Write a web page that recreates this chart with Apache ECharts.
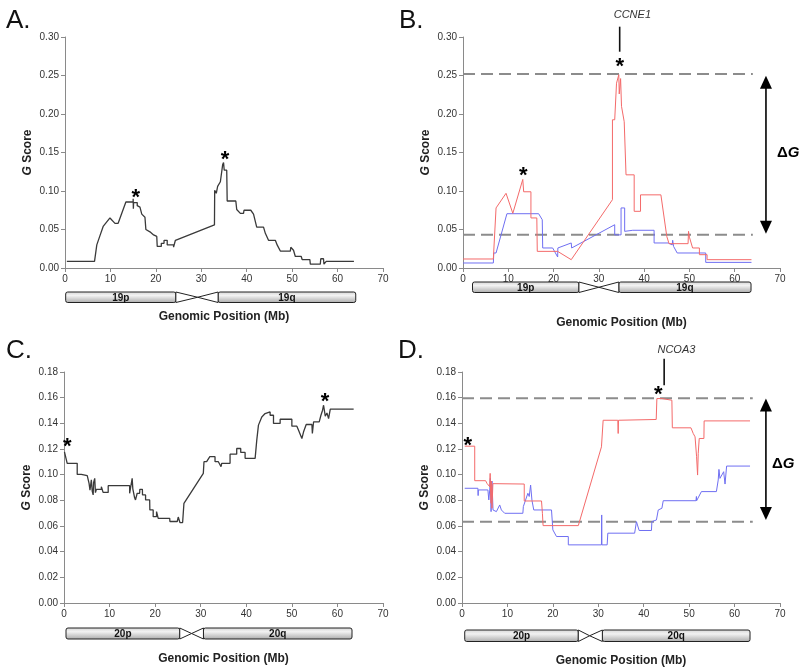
<!DOCTYPE html>
<html><head><meta charset="utf-8">
<script src="https://cdn.jsdelivr.net/npm/echarts@6/dist/echarts.min.js"></script>
<style>html,body{margin:0;padding:0;background:#fff}#c{width:800px;height:669px}</style>
</head><body><div id="c"></div>
<script>
// ---------- DATA ----------
const xTickMax = 70, xTickStep = 10;
const yMaxAB = 0.30, yStepAB = 0.05;
const yMaxCD = 0.18, yStepCD = 0.02;

const seriesA = [[0.4,0.0086],[6.5,0.0086],[7.0,0.030],[7.7,0.042],[8.4,0.054],[9.9,0.065],[11.0,0.058],[11.7,0.058],[13.4,0.0857],[15.0,0.0857],[15.0,0.090],[15.05,0.077],[15.1,0.085],[15.9,0.085],[15.9,0.081],[16.5,0.079],[16.9,0.070],[17.6,0.066],[17.8,0.050],[18.7,0.047],[19.5,0.043],[20.2,0.041],[20.3,0.028],[21.2,0.028],[21.2,0.032],[21.8,0.032],[21.8,0.036],[22.5,0.036],[22.5,0.030],[23.9,0.030],[23.9,0.027],[24.2,0.027],[24.3,0.036],[32.9,0.056],[32.95,0.101],[33.3,0.097],[33.6,0.106],[34.2,0.112],[34.4,0.113],[34.7,0.134],[34.9,0.137],[35.05,0.127],[35.6,0.127],[35.7,0.087],[37.6,0.087],[37.8,0.076],[38.6,0.071],[39.3,0.071],[39.4,0.075],[40.9,0.075],[41.5,0.070],[42.2,0.053],[43.7,0.053],[44.1,0.045],[44.8,0.036],[46.3,0.036],[46.4,0.038],[46.7,0.030],[47.4,0.022],[49.6,0.022],[49.7,0.027],[50.3,0.023],[50.7,0.015],[52.0,0.015],[52.2,0.011],[53.9,0.011],[54.0,0.005],[56.2,0.005],[56.3,0.012],[56.9,0.012],[57.0,0.005],[57.4,0.005],[57.5,0.0086],[63.6,0.0086]];

const seriesBred = [[0.0,0.0117],[6.7,0.0117],[7.3,0.078],[9.5,0.097],[11.0,0.071],[13.2,0.115],[13.4,0.099],[15.0,0.099],[15.0,0.065],[16.3,0.065],[16.4,0.0216],[20.9,0.0216],[23.9,0.0108],[33.0,0.0887],[33.0,0.1925],[33.5,0.1925],[33.9,0.24],[34.4,0.251],[34.5,0.226],[34.8,0.246],[35.0,0.21],[35.4,0.21],[35.6,0.19],[36.0,0.121],[37.8,0.121],[37.8,0.0736],[39.2,0.0736],[39.2,0.095],[43.7,0.095],[45.0,0.041],[45.5,0.0316],[49.7,0.0316],[49.8,0.0476],[50.0,0.040],[50.7,0.026],[52.2,0.026],[52.2,0.0173],[53.9,0.0173],[53.9,0.0108],[63.7,0.0108]];
const seriesBblue = [[0.0,0.0065],[6.7,0.0065],[6.8,0.0195],[7.3,0.0195],[9.7,0.0705],[16.7,0.0705],[17.5,0.0627],[17.6,0.026],[19.8,0.026],[20.9,0.0143],[20.95,0.026],[23.9,0.0325],[24.0,0.026],[33.5,0.0562],[33.5,0.043],[34.9,0.043],[34.9,0.078],[35.7,0.078],[35.7,0.0476],[37.5,0.049],[42.2,0.049],[42.2,0.0325],[45.3,0.0325],[46.2,0.030],[46.3,0.036],[46.5,0.028],[47.3,0.0195],[53.6,0.0195],[53.6,0.0073],[63.7,0.0073]];

const seriesC = [[0.1,0.1178],[0.7,0.1088],[2.9,0.1088],[2.9,0.1002],[3.8,0.1002],[3.8,0.0992],[5.1,0.0992],[5.5,0.0932],[5.7,0.088],[6.0,0.096],[6.2,0.087],[6.4,0.0842],[6.5,0.094],[6.74,0.0971],[6.9,0.086],[7.11,0.0886],[8.2,0.0886],[8.2,0.0906],[8.58,0.0906],[8.58,0.0862],[9.7,0.0862],[9.7,0.0914],[14.4,0.0914],[14.4,0.0855],[14.8,0.0855],[14.96,0.0971],[15.1,0.089],[15.32,0.0886],[15.5,0.082],[15.69,0.0803],[16.06,0.0855],[16.6,0.0855],[16.64,0.0886],[17.2,0.0886],[17.23,0.0842],[17.9,0.0842],[17.9,0.0803],[18.8,0.0803],[18.84,0.0725],[19.57,0.0725],[19.57,0.0673],[20.3,0.0673],[20.31,0.0712],[20.67,0.0712],[20.67,0.066],[23.2,0.066],[23.24,0.0635],[24.85,0.0635],[25.07,0.067],[25.44,0.0627],[26.03,0.0627],[26.32,0.0777],[30.57,0.101],[30.72,0.1101],[31.3,0.1101],[31.3,0.1114],[32.0,0.114],[33.14,0.114],[33.14,0.1101],[33.87,0.1101],[34.46,0.1062],[34.6,0.1088],[36.44,0.1088],[36.44,0.116],[37.9,0.116],[37.9,0.1204],[38.78,0.1204],[38.78,0.1173],[39.74,0.1173],[39.74,0.1127],[41.94,0.1127],[42.3,0.1269],[42.67,0.1386],[43.4,0.145],[44.13,0.1476],[44.5,0.1489],[45.23,0.1489],[45.23,0.1463],[45.97,0.1463],[45.97,0.1399],[47.43,0.1399],[47.43,0.1432],[50.0,0.1432],[50.0,0.1378],[51.1,0.1378],[51.47,0.1347],[52.2,0.1282],[52.57,0.1334],[53.15,0.1391],[54.4,0.1391],[54.5,0.1321],[54.77,0.1412],[56.0,0.1412],[56.38,0.1463],[56.74,0.1502],[56.96,0.1541],[57.33,0.1456],[57.7,0.1481],[58.06,0.1437],[58.43,0.151],[63.56,0.151]];

const seriesDred = [[0.6,0.1222],[2.8,0.1222],[2.8,0.0953],[5.2,0.0953],[5.5,0.0932],[6.1,0.0906],[6.2,0.101],[6.3,0.085],[6.4,0.0777],[6.5,0.095],[6.6,0.0738],[6.8,0.093],[7.2,0.0927],[13.7,0.0927],[13.7,0.0795],[17.5,0.0795],[17.7,0.0699],[17.85,0.0603],[25.6,0.0603],[30.7,0.1217],[31.07,0.1424],[34.3,0.1424],[34.38,0.1321],[34.45,0.1424],[42.75,0.143],[42.9,0.1593],[44.0,0.1593],[44.0,0.158],[46.2,0.158],[46.3,0.1365],[50.4,0.1365],[50.9,0.1321],[51.3,0.1295],[51.64,0.114],[51.86,0.0997],[52.0,0.1166],[52.22,0.1282],[53.25,0.1282],[53.3,0.1419],[63.4,0.1419]];
const seriesDblue = [[0.6,0.0894],[3.5,0.0894],[3.55,0.0837],[3.6,0.0881],[5.7,0.0881],[5.9,0.0803],[6.1,0.088],[6.24,0.0971],[6.4,0.0712],[6.6,0.095],[6.83,0.0725],[7.57,0.0712],[8.3,0.0764],[8.67,0.0725],[9.4,0.0699],[13.4,0.0699],[13.5,0.0751],[14.5,0.0855],[14.8,0.083],[15.1,0.0919],[15.4,0.080],[15.8,0.0725],[19.7,0.0725],[20.0,0.057],[20.8,0.0518],[23.4,0.0518],[23.4,0.0453],[30.7,0.0453],[30.75,0.0686],[30.8,0.0453],[31.95,0.0453],[32.1,0.0544],[38.0,0.0544],[38.4,0.0634],[39.0,0.0565],[41.7,0.0565],[41.8,0.0634],[42.8,0.0647],[43.2,0.0725],[44.0,0.0738],[44.3,0.0797],[51.5,0.0797],[51.6,0.083],[51.65,0.0797],[52.7,0.0868],[56.0,0.0868],[56.4,0.0958],[56.56,0.1041],[56.78,0.0971],[57.6,0.1023],[57.9,0.0927],[58.25,0.1067],[63.4,0.1067]];

// reference (dashed) levels: [x start, x end, level]
const refLinesB = [[0, 64, 0.252], [0, 64, 0.0432]];
const refLinesD = [[0, 64, 0.1595], [0, 64, 0.0634]];
// delta-G arrows: [x, low tip, high tip]
const arrowB = [[66.9, 0.0445, 0.2497]];
const arrowD = [[66.9, 0.0647, 0.1593]];
const deltaLabelB = [[71.8, 0.1498]];
const deltaLabelD = [[70.7, 0.1088]];
// asterisks (glyph centres)
const starsA = [[15.6, 0.098], [35.2, 0.147]];
const starsB = [[13.3, 0.1255], [34.6, 0.268]];
const starsC = [[0.74, 0.1256], [57.3, 0.1606]];
const starsD = [[1.3, 0.126], [43.2, 0.1663]];
// gene labels: [text x, text y, line x, line top, line bottom]
const geneNames = ['CCNE1', 'NCOA3'];
const geneB = [[37.4, 0.329, 34.6, 0.3134, 0.2809]];
const geneD = [[47.2, 0.1974, 44.5, 0.1904, 0.1697]];
// chromosome ideograms: [start, p end, centromere, q start, end] (Mb)
const ideoA = [[0.15, 24.4, 29.2, 33.7, 64.0]];
const ideoB = [[2.1, 25.6, 30.0, 34.4, 63.6]];
const ideoC = [[0.44, 25.4, 28.0, 30.6, 63.2]];
const ideoD = [[0.6, 25.6, 28.1, 30.9, 63.4]];
const armLabels19 = ['19p', '19q'];
const armLabels20 = ['20p', '20q'];
const panelLetters = ['A.', 'B.', 'C.', 'D.'];

// ---------- LAYOUT ----------
const FONT = 'Liberation Sans, Arial, sans-serif';
const mainGrids = [
  {left: 65, top: 37, width: 318, height: 231},
  {left: 463, top: 37, width: 317, height: 231},
  {left: 64, top: 372, width: 319, height: 231},
  {left: 462, top: 372, width: 318, height: 231}
];
const ideoGrids = [
  {left: 65, top: 292, width: 318, height: 10.5},
  {left: 463, top: 282, width: 317, height: 10.5},
  {left: 64, top: 628, width: 319, height: 11},
  {left: 462, top: 630, width: 318, height: 11.5}
];
const xNameGap = [43, 49, 50, 52];
const yMaxes = [yMaxAB, yMaxAB, yMaxCD, yMaxCD];
const ySteps = [yStepAB, yStepAB, yStepCD, yStepCD];

const grid = [], xAxis = [], yAxis = [];
mainGrids.forEach((g, i) => {
  grid.push(Object.assign({containLabel: false}, g));
  xAxis.push({
    type: 'value', gridIndex: i, min: 0, max: xTickMax, interval: xTickStep,
    name: 'Genomic Position (Mb)', nameLocation: 'middle', nameGap: xNameGap[i],
    nameTextStyle: {fontFamily: FONT, fontWeight: 'bold', fontSize: 12, color: '#222'},
    axisLine: {show: true, onZero: false, lineStyle: {color: '#8a8a8a', width: 1}},
    axisTick: {show: true, length: 4, lineStyle: {color: '#8a8a8a'}},
    axisLabel: {fontFamily: FONT, fontSize: 10, color: '#333', margin: 6},
    splitLine: {show: false}
  });
  yAxis.push({
    type: 'value', gridIndex: i, min: 0, max: yMaxes[i], interval: ySteps[i],
    name: '{i|G} Score', nameLocation: 'middle', nameGap: 31, nameRotate: 90,
    nameTextStyle: {fontFamily: FONT, fontWeight: 'bold', fontSize: 12, color: '#222',
      rich: {i: {fontFamily: FONT, fontWeight: 'bold', fontStyle: 'italic', fontSize: 12, color: '#222'}}},
    axisLine: {show: true, onZero: false, lineStyle: {color: '#8a8a8a', width: 1}},
    axisTick: {show: true, length: 4, lineStyle: {color: '#8a8a8a'}},
    axisLabel: {fontFamily: FONT, fontSize: 10, color: '#333', margin: 6,
      formatter: v => v.toFixed(2)},
    splitLine: {show: false}
  });
});
ideoGrids.forEach((g, i) => {
  grid.push(Object.assign({containLabel: false}, g));
  xAxis.push({type: 'value', gridIndex: 4 + i, min: 0, max: xTickMax, show: false});
  yAxis.push({type: 'value', gridIndex: 4 + i, min: 0, max: 1, show: false});
});

function lineSeries(idx, data, color, width) {
  return {type: 'line', xAxisIndex: idx, yAxisIndex: idx, data: data, showSymbol: false,
    symbol: 'none', silent: true, animation: false, clip: false,
    lineStyle: {color: color, width: width}, z: 3};
}

function ideoSeries(idx, data, labels) {
  return {type: 'custom', xAxisIndex: 4 + idx, yAxisIndex: 4 + idx, data: data, silent: true, animation: false,
    renderItem: function (params, api) {
      const s = api.value(0), pe = api.value(1), m = api.value(2), qs = api.value(3), e = api.value(4);
      const X = v => api.coord([v, 0])[0];
      const top = api.coord([s, 1])[1], bot = api.coord([s, 0])[1];
      const mid = (top + bot) / 2;
      const grad = () => new echarts.graphic.LinearGradient(0, 0, 0, 1, [
        {offset: 0, color: '#d4d4d4'}, {offset: 0.35, color: '#f2f2f2'}, {offset: 1, color: '#a9a9a9'}]);
      const lab = (txt, cx) => ({type: 'text', x: cx, y: mid + 0.5, style: {text: txt, fill: '#111',
        font: 'bold 10px ' + FONT, align: 'center', verticalAlign: 'middle'}});
      return {type: 'group', children: [
        {type: 'rect', shape: {x: X(s), y: top, width: X(pe) - X(s), height: bot - top, r: 2},
          style: {fill: grad(), stroke: '#222', lineWidth: 1}},
        {type: 'rect', shape: {x: X(qs), y: top, width: X(e) - X(qs), height: bot - top, r: 2},
          style: {fill: grad(), stroke: '#222', lineWidth: 1}},
        {type: 'polygon', shape: {points: [[X(pe), top], [X(pe), bot], [X(m), mid]]},
          style: {fill: '#fff', stroke: '#222', lineWidth: 1}},
        {type: 'polygon', shape: {points: [[X(qs), top], [X(qs), bot], [X(m), mid]]},
          style: {fill: '#fff', stroke: '#222', lineWidth: 1}},
        lab(labels[0], (X(s) + X(pe)) / 2),
        lab(labels[1], (X(qs) + X(e)) / 2)
      ]};
    }};
}

function starSeries(idx, data) {
  return {type: 'custom', xAxisIndex: idx, yAxisIndex: idx, data: data, silent: true, animation: false, z: 5,
    renderItem: function (params, api) {
      const p = api.coord([api.value(0), api.value(1)]);
      return {type: 'text', x: p[0], y: p[1] + 5, style: {text: '*', fill: '#000',
        font: 'bold 22px ' + FONT, align: 'center', verticalAlign: 'middle'}};
    }};
}

function refSeries(idx, data) {
  return {type: 'custom', xAxisIndex: idx, yAxisIndex: idx, data: data, silent: true, animation: false, z: 2,
    renderItem: function (params, api) {
      const a = api.coord([api.value(0), api.value(2)]);
      const b = api.coord([api.value(1), api.value(2)]);
      return {type: 'line', shape: {x1: a[0], y1: a[1], x2: b[0], y2: b[1]},
        style: {stroke: '#8c8c8c', lineWidth: 2, lineDash: [12, 6]}};
    }};
}

function arrowSeries(idx, data) {
  return {type: 'custom', xAxisIndex: idx, yAxisIndex: idx, data: data, silent: true, animation: false, z: 5,
    renderItem: function (params, api) {
      const lo = api.coord([api.value(0), api.value(1)]);
      const hi = api.coord([api.value(0), api.value(2)]);
      const x = lo[0], hw = 6, hh = 13;
      return {type: 'group', children: [
        {type: 'line', shape: {x1: x, y1: hi[1] + hh - 1, x2: x, y2: lo[1] - hh + 1},
          style: {stroke: '#000', lineWidth: 1.6}},
        {type: 'polygon', shape: {points: [[x, hi[1]], [x - hw, hi[1] + hh], [x + hw, hi[1] + hh]]},
          style: {fill: '#000'}},
        {type: 'polygon', shape: {points: [[x, lo[1]], [x - hw, lo[1] - hh], [x + hw, lo[1] - hh]]},
          style: {fill: '#000'}}
      ]};
    }};
}

function deltaSeries(idx, data) {
  return {type: 'custom', xAxisIndex: idx, yAxisIndex: idx, data: data, silent: true, animation: false, z: 5,
    renderItem: function (params, api) {
      const p = api.coord([api.value(0), api.value(1)]);
      return {type: 'text', x: p[0], y: p[1], style: {text: '{a|Δ}{b|G}', align: 'center', verticalAlign: 'middle',
        rich: {a: {fontFamily: FONT, fontWeight: 'bold', fontSize: 15, fill: '#000', color: '#000'},
               b: {fontFamily: FONT, fontWeight: 'bold', fontStyle: 'italic', fontSize: 15, fill: '#000', color: '#000'}}}};
    }};
}

function geneSeries(idx, data, name) {
  return {type: 'custom', xAxisIndex: idx, yAxisIndex: idx, data: data, silent: true, animation: false, z: 5,
    renderItem: function (params, api) {
      const t = api.coord([api.value(0), api.value(1)]);
      const a = api.coord([api.value(2), api.value(3)]);
      const b = api.coord([api.value(2), api.value(4)]);
      return {type: 'group', children: [
        {type: 'text', x: t[0], y: t[1], style: {text: name, fill: '#333',
          font: 'italic 11px ' + FONT, align: 'center', verticalAlign: 'middle'}},
        {type: 'line', shape: {x1: a[0], y1: a[1], x2: b[0], y2: b[1]}, style: {stroke: '#111', lineWidth: 1.6}}
      ]};
    }};
}

const RED = '#f46a6a', BLUE = '#6f6ff2', DARK = '#3a3a3a';
const series = [
  lineSeries(0, seriesA, DARK, 1.3),
  refSeries(1, refLinesB),
  lineSeries(1, seriesBblue, BLUE, 1),
  lineSeries(1, seriesBred, RED, 1),
  lineSeries(2, seriesC, DARK, 1.3),
  refSeries(3, refLinesD),
  lineSeries(3, seriesDblue, BLUE, 1),
  lineSeries(3, seriesDred, RED, 1),
  starSeries(0, starsA), starSeries(1, starsB), starSeries(2, starsC), starSeries(3, starsD),
  arrowSeries(1, arrowB), arrowSeries(3, arrowD),
  deltaSeries(1, deltaLabelB), deltaSeries(3, deltaLabelD),
  geneSeries(1, geneB, geneNames[0]), geneSeries(3, geneD, geneNames[1]),
  ideoSeries(0, ideoA, armLabels19), ideoSeries(1, ideoB, armLabels19),
  ideoSeries(2, ideoC, armLabels20), ideoSeries(3, ideoD, armLabels20)
];

const letterPos = [[6, 8], [399, 8], [6, 338], [398, 338]];
const graphic = panelLetters.map((t, i) => ({type: 'text', left: letterPos[i][0], top: letterPos[i][1],
  style: {text: t, fill: '#111', font: '26px ' + FONT}}));

const chart = echarts.init(document.getElementById('c'), null, {renderer: 'canvas'});
chart.setOption({animation: false, backgroundColor: '#fff', grid, xAxis, yAxis, series, graphic});
</script>
</body></html>
